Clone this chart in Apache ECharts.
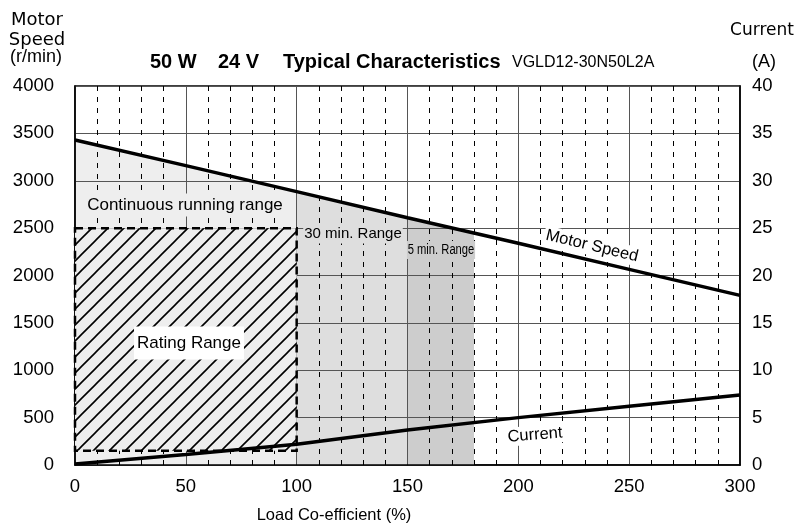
<!DOCTYPE html>
<html><head><meta charset="utf-8">
<script src="https://cdn.jsdelivr.net/npm/echarts@6/dist/echarts.min.js"></script>
<style>html,body{margin:0;padding:0;background:#fff}#c{width:804px;height:526px}</style>
</head><body><div id="c"></div>
<script>
// ---- data ----
const speedPoints = [[0,3430],[50,3160],[100,2885],[150,2610],[200,2340],[250,2065],[300,1790]];      // load %, r/min
const currentPoints = [[0,0.1],[50,1.1],[100,2.2],[150,3.7],[200,5.0],[250,6.2],[300,7.4]];          // load %, A
const continuousRange = [[0,3430],[100,2885]];   // region under the speed curve, 0-100 %
const thirtyMinRange = [[100,2885],[150,2610]];  // 100-150 %
const fiveMinRange = [[150,2610],[180,2445]];    // 150-180 %
const ratingRange = [[0,150,100,2500]];          // x from, y from, x to, y to
const xRange = [0,300], xStep = 50;
const speedRange = [0,4000], speedStep = 500;
const currentRange = [0,40], currentStep = 5;

const FONT = '"Liberation Sans", Arial, Helvetica, sans-serif';
function hatchCanvas(){
  const s=16, c=document.createElement('canvas'); c.width=s; c.height=s;
  const g=c.getContext('2d'); g.fillStyle='#eeeeee'; g.fillRect(0,0,s,s);
  g.strokeStyle='#000'; g.lineWidth=1.6; g.beginPath();
  g.moveTo(-3,s+3); g.lineTo(s+3,-3);
  g.moveTo(-3,3); g.lineTo(3,-3);
  g.moveTo(s-3,s+3); g.lineTo(s+3,s-3);
  g.stroke(); return c;
}
const hatch = hatchCanvas();
const chart = echarts.init(document.getElementById('c'), null, {renderer:'canvas'});
const axisLabelStyle = {color:'#000', fontSize:18.5, fontFamily:FONT, formatter:function(v){return String(v);}};
function txt(text, x, y, opt){
  return Object.assign({type:'text', x:x, y:y, z:100, silent:true,
    style:Object.assign({text:text, x:0, y:0, fill:'#000', font:'17px '+FONT, align:'center', verticalAlign:'middle'}, opt && opt.style || {})},
    opt && opt.el || {});
}
chart.setOption({
  animation:false,
  grid:{left:75, right:64, top:86, bottom:61, show:true, borderColor:'#000', borderWidth:1.5, backgroundColor:'#fff'},
  xAxis:{type:'value', min:xRange[0], max:xRange[1], interval:xStep, z:3,
    axisLine:{lineStyle:{color:'#000', width:1.5}}, axisTick:{show:false},
    axisLabel:Object.assign({margin:12}, axisLabelStyle),
    splitLine:{show:true, lineStyle:{color:'#555', width:1}},
    minorTick:{show:false, splitNumber:5},
    minorSplitLine:{show:true, lineStyle:{color:'#000', width:1, type:[5,6]}}},
  yAxis:[
    {type:'value', min:speedRange[0], max:speedRange[1], interval:speedStep, z:3,
     axisLine:{show:true, lineStyle:{color:'#000', width:1.5}}, axisTick:{show:false},
     axisLabel:Object.assign({margin:21}, axisLabelStyle),
     splitLine:{show:true, lineStyle:{color:'#555', width:1}}},
    {type:'value', min:currentRange[0], max:currentRange[1], interval:currentStep, position:'right', z:3,
     axisLine:{show:true, lineStyle:{color:'#000', width:1.5}}, axisTick:{show:false},
     axisLabel:Object.assign({margin:12}, axisLabelStyle),
     splitLine:{show:false}}
  ],
  series:[
    {type:'line', data:continuousRange, showSymbol:false, silent:true, z:1, lineStyle:{width:0}, areaStyle:{color:'#eeeeee', opacity:1}},
    {type:'line', data:thirtyMinRange, showSymbol:false, silent:true, z:1, lineStyle:{width:0}, areaStyle:{color:'#dedede', opacity:1}},
    {type:'line', data:fiveMinRange, showSymbol:false, silent:true, z:1, lineStyle:{width:0}, areaStyle:{color:'#cdcdcd', opacity:1}},
    {type:'custom', data:ratingRange, z:4, silent:true, encode:{x:[0,2], y:[1,3]},
     renderItem:function(params, api){
       const p0 = api.coord([api.value(0), api.value(3)]);
       const p1 = api.coord([api.value(2), api.value(1)]);
       const sh = {x:p0[0], y:p0[1], width:p1[0]-p0[0], height:p1[1]-p0[1]};
       return {type:'group', children:[
         {type:'rect', shape:sh, style:{fill:{image:hatch, repeat:'repeat'}}},
         {type:'rect', shape:sh, style:{fill:null, stroke:'#000', lineWidth:2.5, lineDash:[8,5]}}
       ]};
     }},
    {type:'line', data:speedPoints, showSymbol:false, silent:true, z:5, lineStyle:{color:'#000', width:3.5}},
    {type:'line', yAxisIndex:1, data:currentPoints, showSymbol:false, silent:true, z:5, lineStyle:{color:'#000', width:3.5}}
  ],
  graphic:[
    txt('Motor', 37, 20, {style:{font:'18px "DejaVu Sans", sans-serif'}}),
    txt('Speed', 37, 40, {style:{font:'18px "DejaVu Sans", sans-serif'}}),
    txt('(r/min)', 36, 57, {style:{font:'18px '+FONT}}),
    txt('Current', 762, 31, {style:{font:'17px "DejaVu Sans", sans-serif'}}),
    txt('(A)', 764, 62, {style:{font:'18px '+FONT}}),
    txt('50 W', 150, 62, {style:{font:'bold 20px '+FONT, align:'left'}}),
    txt('24 V', 218, 62, {style:{font:'bold 20px '+FONT, align:'left'}}),
    txt('Typical Characteristics', 283, 62, {style:{font:'bold 20px '+FONT, align:'left'}}),
    txt('VGLD12-30N50L2A', 512, 63, {style:{font:'16px '+FONT, align:'left'}}),
    txt('Load Co-efficient (%)', 334, 515, {style:{font:'16.5px '+FONT}}),
    txt('Continuous running range', 185, 205, {style:{backgroundColor:'#eeeeee', padding:[3,2]}}),
    txt('30 min. Range', 353, 234, {style:{font:'15px '+FONT, backgroundColor:'#dedede', padding:[2,1]}}),
    txt('5 min. Range', 441, 250, {el:{scaleX:0.8}, style:{font:'14px '+FONT, backgroundColor:'#cdcdcd', padding:[2,1]}}),
    txt('Rating Range', 189, 343, {style:{backgroundColor:'#fff', padding:[8,3]}}),
    txt('Motor Speed', 592, 246, {el:{rotation:-0.236}, style:{font:'16.5px '+FONT, backgroundColor:'#fff', padding:[1,2]}}),
    txt('Current', 535, 435, {el:{rotation:0.08}, style:{font:'16.5px '+FONT, backgroundColor:'#fff', padding:[1,2]}})
  ]
});
</script></body></html>
